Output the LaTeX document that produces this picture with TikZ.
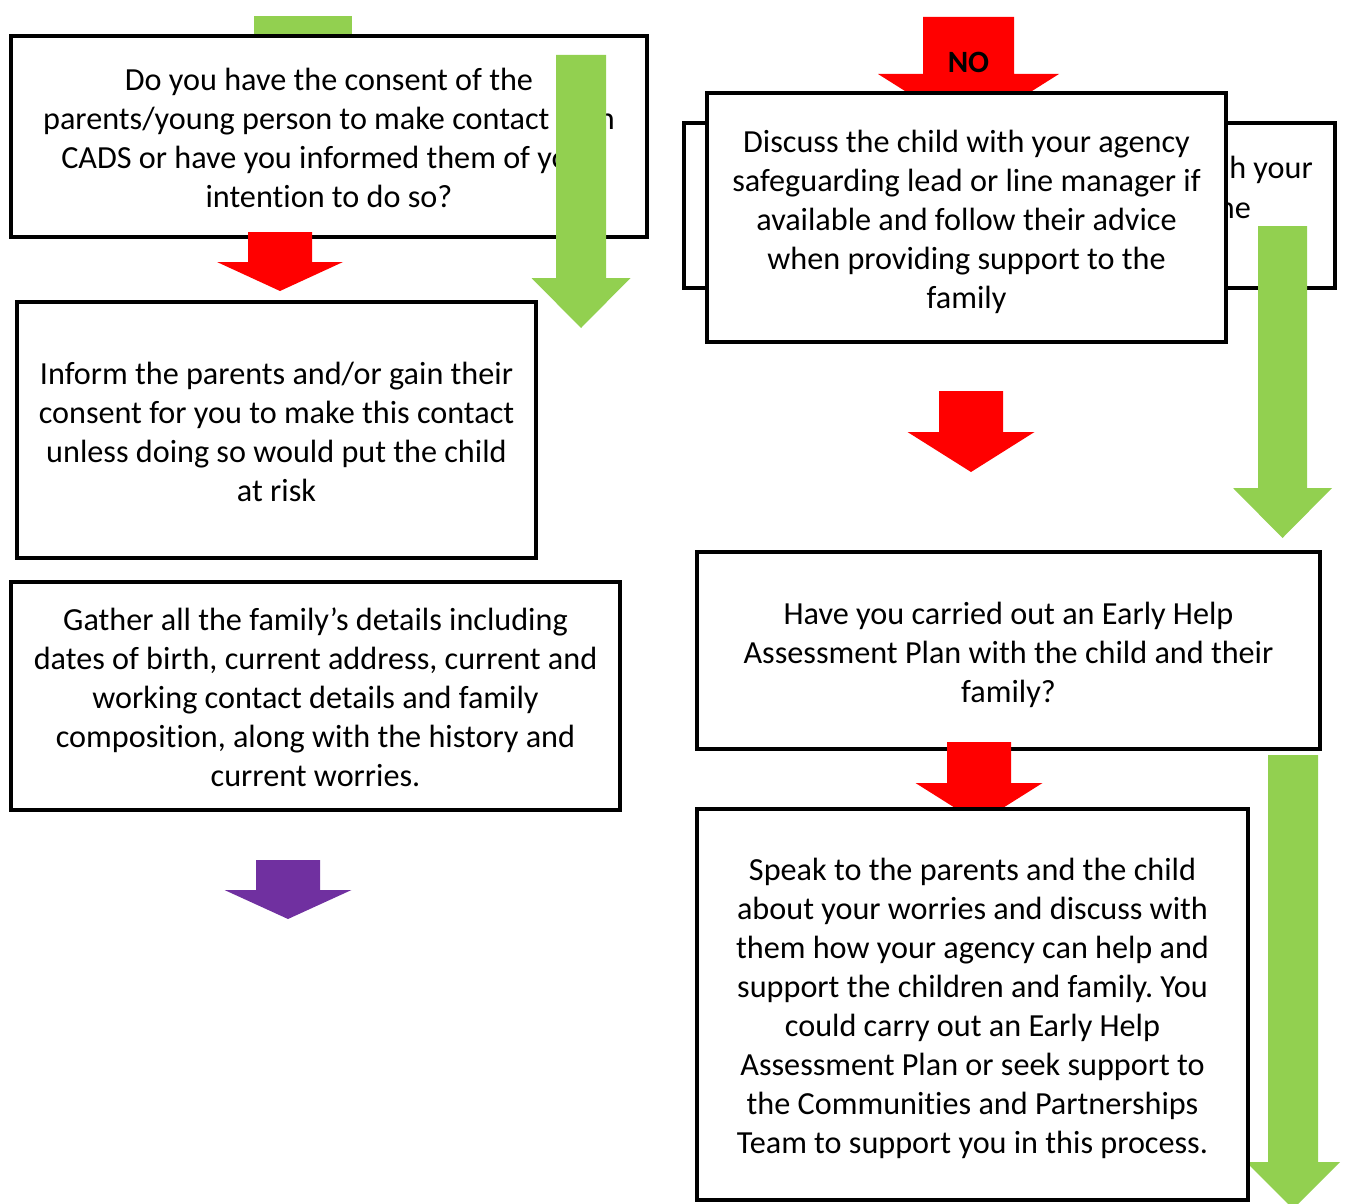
\documentclass[tikz,border=0pt]{standalone}
\usepackage{fontspec}
\setmainfont[Ligatures=NoCommon]{Carlito}
\frenchspacing

\definecolor{arrowred}{HTML}{FF0000}
\definecolor{arrowgreen}{HTML}{92D050}
\definecolor{arrowpurple}{HTML}{7030A0}

% colour, centre x, stem half width, top, head start, head half width, tip
\newcommand{\blockdown}[7]{%
  \fill[#1] (#2-#3,#4) -- (#2+#3,#4) -- (#2+#3,#5) -- (#2+#6,#5) -- (#2,#7) -- (#2-#6,#5) -- (#2-#3,#5) -- cycle;}

\tikzset{
  box/.style={draw, line width=3.5pt, fill=white, inner sep=0pt},
  boxtext/.style={inner sep=0pt, align=center, font=\fontsize{32.2}{39}\selectfont}
}

\begin{document}
\begin{tikzpicture}[x=1pt, y=-1pt]
			\useasboundingbox (0,0) rectangle (1347,1204);
			% left column
			\fill[arrowgreen] (254,16) rectangle (352,40);
			\node[box, minimum width=636pt, minimum height=201pt] (consent) at (329,136.5) {};
			\node[boxtext] (consenttext) at ([yshift=-1pt]consent.center) {Do you have the consent of the\\parents/young person to make contact with\\CADS or have you informed them of your\\intention to do so?};
			\blockdown{arrowgreen}{581}{25}{55}{278}{49.5}{328}
			\blockdown{arrowred}{280}{32}{232}{262}{63}{291}
			\node[box, minimum width=519pt, minimum height=256pt] (inform) at (276.5,430) {};
			\node[boxtext] (informtext) at ([yshift=-2pt]inform.center) {Inform the parents and/or gain their\\consent for you to make this contact\\unless doing so would put the child\\at risk};
			\node[box, minimum width=609pt, minimum height=228pt] (gather) at (315.5,696) {};
			\node[boxtext] (gathertext) at ([yshift=-1pt]gather.center) {Gather all the family’s details including\\dates of birth, current address, current and\\working contact details and family\\composition, along with the history and\\current worries.};
			\blockdown{arrowpurple}{288}{32}{860}{890}{63.5}{919}
			% right column
			\blockdown{arrowred}{968.5}{45.5}{17}{74}{90.5}{131}
			\node[font=\bfseries\fontsize{31}{37}\selectfont, inner sep=0pt] (no) at (968.5,62) {NO};
			\node[box, minimum width=651pt, minimum height=165pt] (behind) at (1009.5,205.5) {};
			\node[boxtext, anchor=east] (behindone) at (1313,170) {h your};
			\node[boxtext, anchor=east] (behindtwo) at (1251,207) {he};
			\blockdown{arrowgreen}{1282.5}{24.5}{226}{488}{49.5}{538}
			\node[box, minimum width=519pt, minimum height=249pt] (discuss) at (966.5,217.5) {};
			\node[boxtext] (discusstext) at ([yshift=-4.5pt]discuss.center) {Discuss the child with your agency\\safeguarding lead or line manager if\\available and follow their advice\\when providing support to the\\family};
			\blockdown{arrowred}{971}{32}{391}{432}{63.5}{472}
			\node[box, minimum width=623pt, minimum height=197pt] (earlyhelp) at (1008.5,650.5) {};
			\node[boxtext] (earlyhelptext) at ([yshift=-4.5pt]earlyhelp.center) {Have you carried out an Early Help\\Assessment Plan with the child and their\\family?};
			\blockdown{arrowred}{979}{32}{742}{783}{63.5}{823}
			\blockdown{arrowgreen}{1293}{25}{755}{1162}{47}{1209}
			\node[box, minimum width=551pt, minimum height=391pt] (speak) at (972.5,1004.5) {};
			\node[boxtext] (speaktext) at ([yshift=-4pt]speak.center) {Speak to the parents and the child\\about your worries and discuss with\\them how your agency can help and\\support the children and family. You\\could carry out an Early Help\\Assessment Plan or seek support to\\the Communities and Partnerships\\Team to support you in this process.};
		\end{tikzpicture}
\end{document}
